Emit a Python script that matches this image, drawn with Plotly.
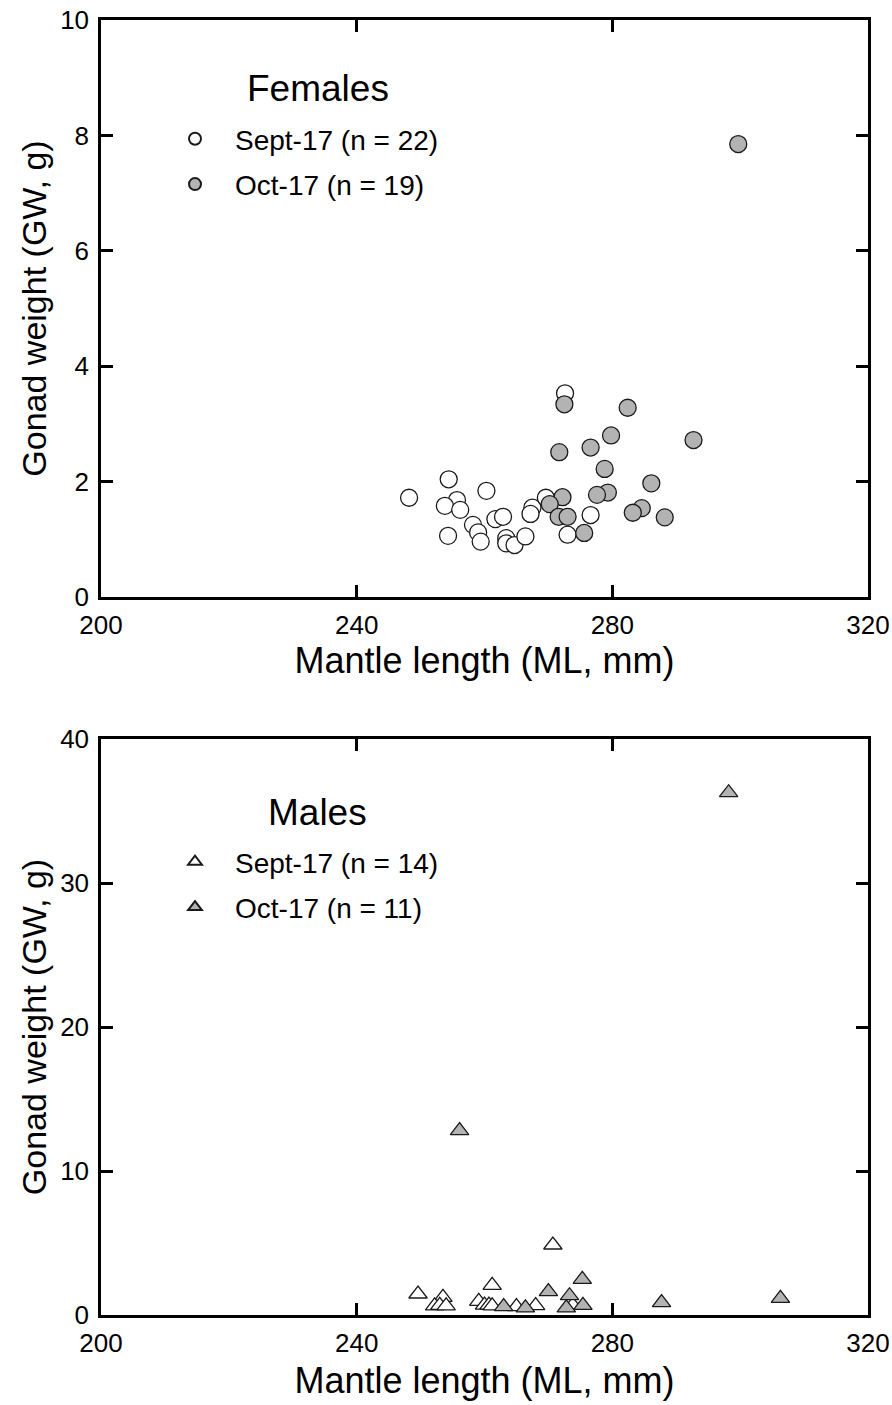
import plotly.graph_objects as go

# ---------------- Data ----------------
# Females, September 2017 (n = 22)
fem_sep_ml = [272.6, 248.2, 254.4, 260.3, 255.7, 253.8, 256.2, 254.3, 258.2, 259.0, 259.4,
              261.7, 262.9, 263.4, 263.4, 264.7, 266.4, 267.5, 267.2, 269.6, 273.0, 276.6]
fem_sep_gw = [3.53, 1.72, 2.04, 1.84, 1.68, 1.58, 1.51, 1.06, 1.25, 1.12, 0.96,
              1.35, 1.39, 1.02, 0.93, 0.90, 1.05, 1.55, 1.44, 1.72, 1.08, 1.42]
# Females, October 2017 (n = 19)
fem_oct_ml = [272.5, 282.4, 292.7, 279.8, 276.6, 271.7, 278.8, 286.1, 279.3, 277.6,
              272.2, 270.2, 284.6, 283.2, 288.2, 271.6, 273.0, 275.6, 299.7]
fem_oct_gw = [3.34, 3.28, 2.72, 2.80, 2.59, 2.51, 2.22, 1.97, 1.81, 1.77,
              1.73, 1.61, 1.54, 1.46, 1.38, 1.39, 1.39, 1.11, 7.85]
# Males, September 2017 (n = 14)
mal_sep_ml = [270.7, 249.6, 253.5, 261.2, 252.2, 253.0, 254.0, 259.1, 260.0, 260.7,
              261.2, 265.0, 268.0, 273.8]
mal_sep_gw = [4.86, 1.46, 1.23, 2.06, 0.63, 0.67, 0.63, 0.95, 0.69, 0.69,
              0.63, 0.58, 0.65, 0.69]
# Males, October 2017 (n = 11)
mal_oct_ml = [275.3, 270.0, 273.3, 263.0, 266.4, 272.8, 275.4, 287.7, 306.3, 256.1, 298.2]
mal_oct_gw = [2.48, 1.62, 1.34, 0.58, 0.49, 0.49, 0.67, 0.86, 1.16, 12.8, 36.27]

x_ticks = [200, 240, 280, 320]
y_ticks_top = [0, 2, 4, 6, 8, 10]
y_ticks_bot = [0, 10, 20, 30, 40]

FONT = "Liberation Sans, Arial, sans-serif"
GRAY = "#b3b3b3"
EDGE = "#1a1a1a"

fig = go.Figure()

def add(xv, yv, name, symbol, fill, xa, ya, legend, group):
    fig.add_trace(go.Scatter(
        x=xv, y=yv, mode="markers", name=name,
        marker=dict(symbol=symbol, size=17 if symbol == "circle" else 16,
                    color=fill, line=dict(color=EDGE, width=1.3)),
        xaxis=xa, yaxis=ya, legend=legend, legendgroup=group,
    ))

add(fem_sep_ml, fem_sep_gw, "Sept-17 (n = 22)", "circle", "white", "x", "y", "legend", "a")
add(fem_oct_ml, fem_oct_gw, "Oct-17 (n = 19)", "circle", GRAY, "x", "y", "legend", "b")
add(mal_sep_ml, mal_sep_gw, "Sept-17 (n = 14)", "triangle-up", "white", "x2", "y2", "legend2", "c")
add(mal_oct_ml, mal_oct_gw, "Oct-17 (n = 11)", "triangle-up", GRAY, "x2", "y2", "legend2", "d")

axis_common = dict(
    showline=True, linewidth=2.5, linecolor="black", mirror="ticks",
    ticks="inside", ticklen=12, tickwidth=2.5, tickcolor="black",
    showgrid=False, zeroline=False, automargin=False,
    tickfont=dict(family=FONT, size=26, color="black"),
)
def xtitle(st):
    return dict(text="Mantle length (ML, mm)", font=dict(family=FONT, size=36, color="black"), standoff=st)
ytitle = dict(text="Gonad weight (GW, g)", font=dict(family=FONT, size=34, color="black"), standoff=4)

W, H = 892, 1405
L, R, T, B = 101, 24, 20, 90
PW, PH = W - L - R, H - T - B
TOP_LO = (1315 - 597) / PH
BOT_HI = (1315 - 739) / PH

def px_x(p):
    return (p - L) / PW

def px_y(p):
    return (H - B - p) / PH

legend_common = dict(
    xanchor="left", yanchor="top",
    bgcolor="rgba(0,0,0,0)", borderwidth=0, itemsizing="constant", itemwidth=70,
    traceorder="grouped", tracegroupgap=6,
    font=dict(family=FONT, size=28, color="black"),
)

fig.update_layout(
    width=W, height=H,
    margin=dict(l=L, r=R, t=T, b=B),
    paper_bgcolor="white", plot_bgcolor="white",
    font=dict(family=FONT, color="black"),
    xaxis=dict(axis_common, domain=[0, 1], range=[200, 320], tickvals=x_ticks, anchor="y",
               title=xtitle(7), ticklabelstandoff=3),
    yaxis=dict(axis_common, domain=[TOP_LO, 1], range=[0, 10], tickvals=y_ticks_top, anchor="x",
               title=ytitle, ticklabelstandoff=4),
    xaxis2=dict(axis_common, domain=[0, 1], range=[200, 320], tickvals=x_ticks, anchor="y2",
                title=xtitle(11), ticklabelstandoff=3),
    yaxis2=dict(axis_common, domain=[0, BOT_HI], range=[0, 40], tickvals=y_ticks_bot, anchor="x2",
                title=ytitle, ticklabelstandoff=4),
    legend=dict(legend_common, x=px_x(155), y=px_y(114)),
    legend2=dict(legend_common, x=px_x(155), y=px_y(837)),
    annotations=[
        dict(text="Females", xref="paper", yref="paper", x=px_x(318), y=px_y(88),
             xanchor="center", yanchor="middle", showarrow=False,
             font=dict(family=FONT, size=37, color="black")),
        dict(text="Males", xref="paper", yref="paper", x=px_x(317), y=px_y(812),
             xanchor="center", yanchor="middle", showarrow=False,
             font=dict(family=FONT, size=37, color="black")),
    ],
)

fig.write_html("out.html", config={"displayModeBar": False},
               post_script="document.body.style.margin='0';")
